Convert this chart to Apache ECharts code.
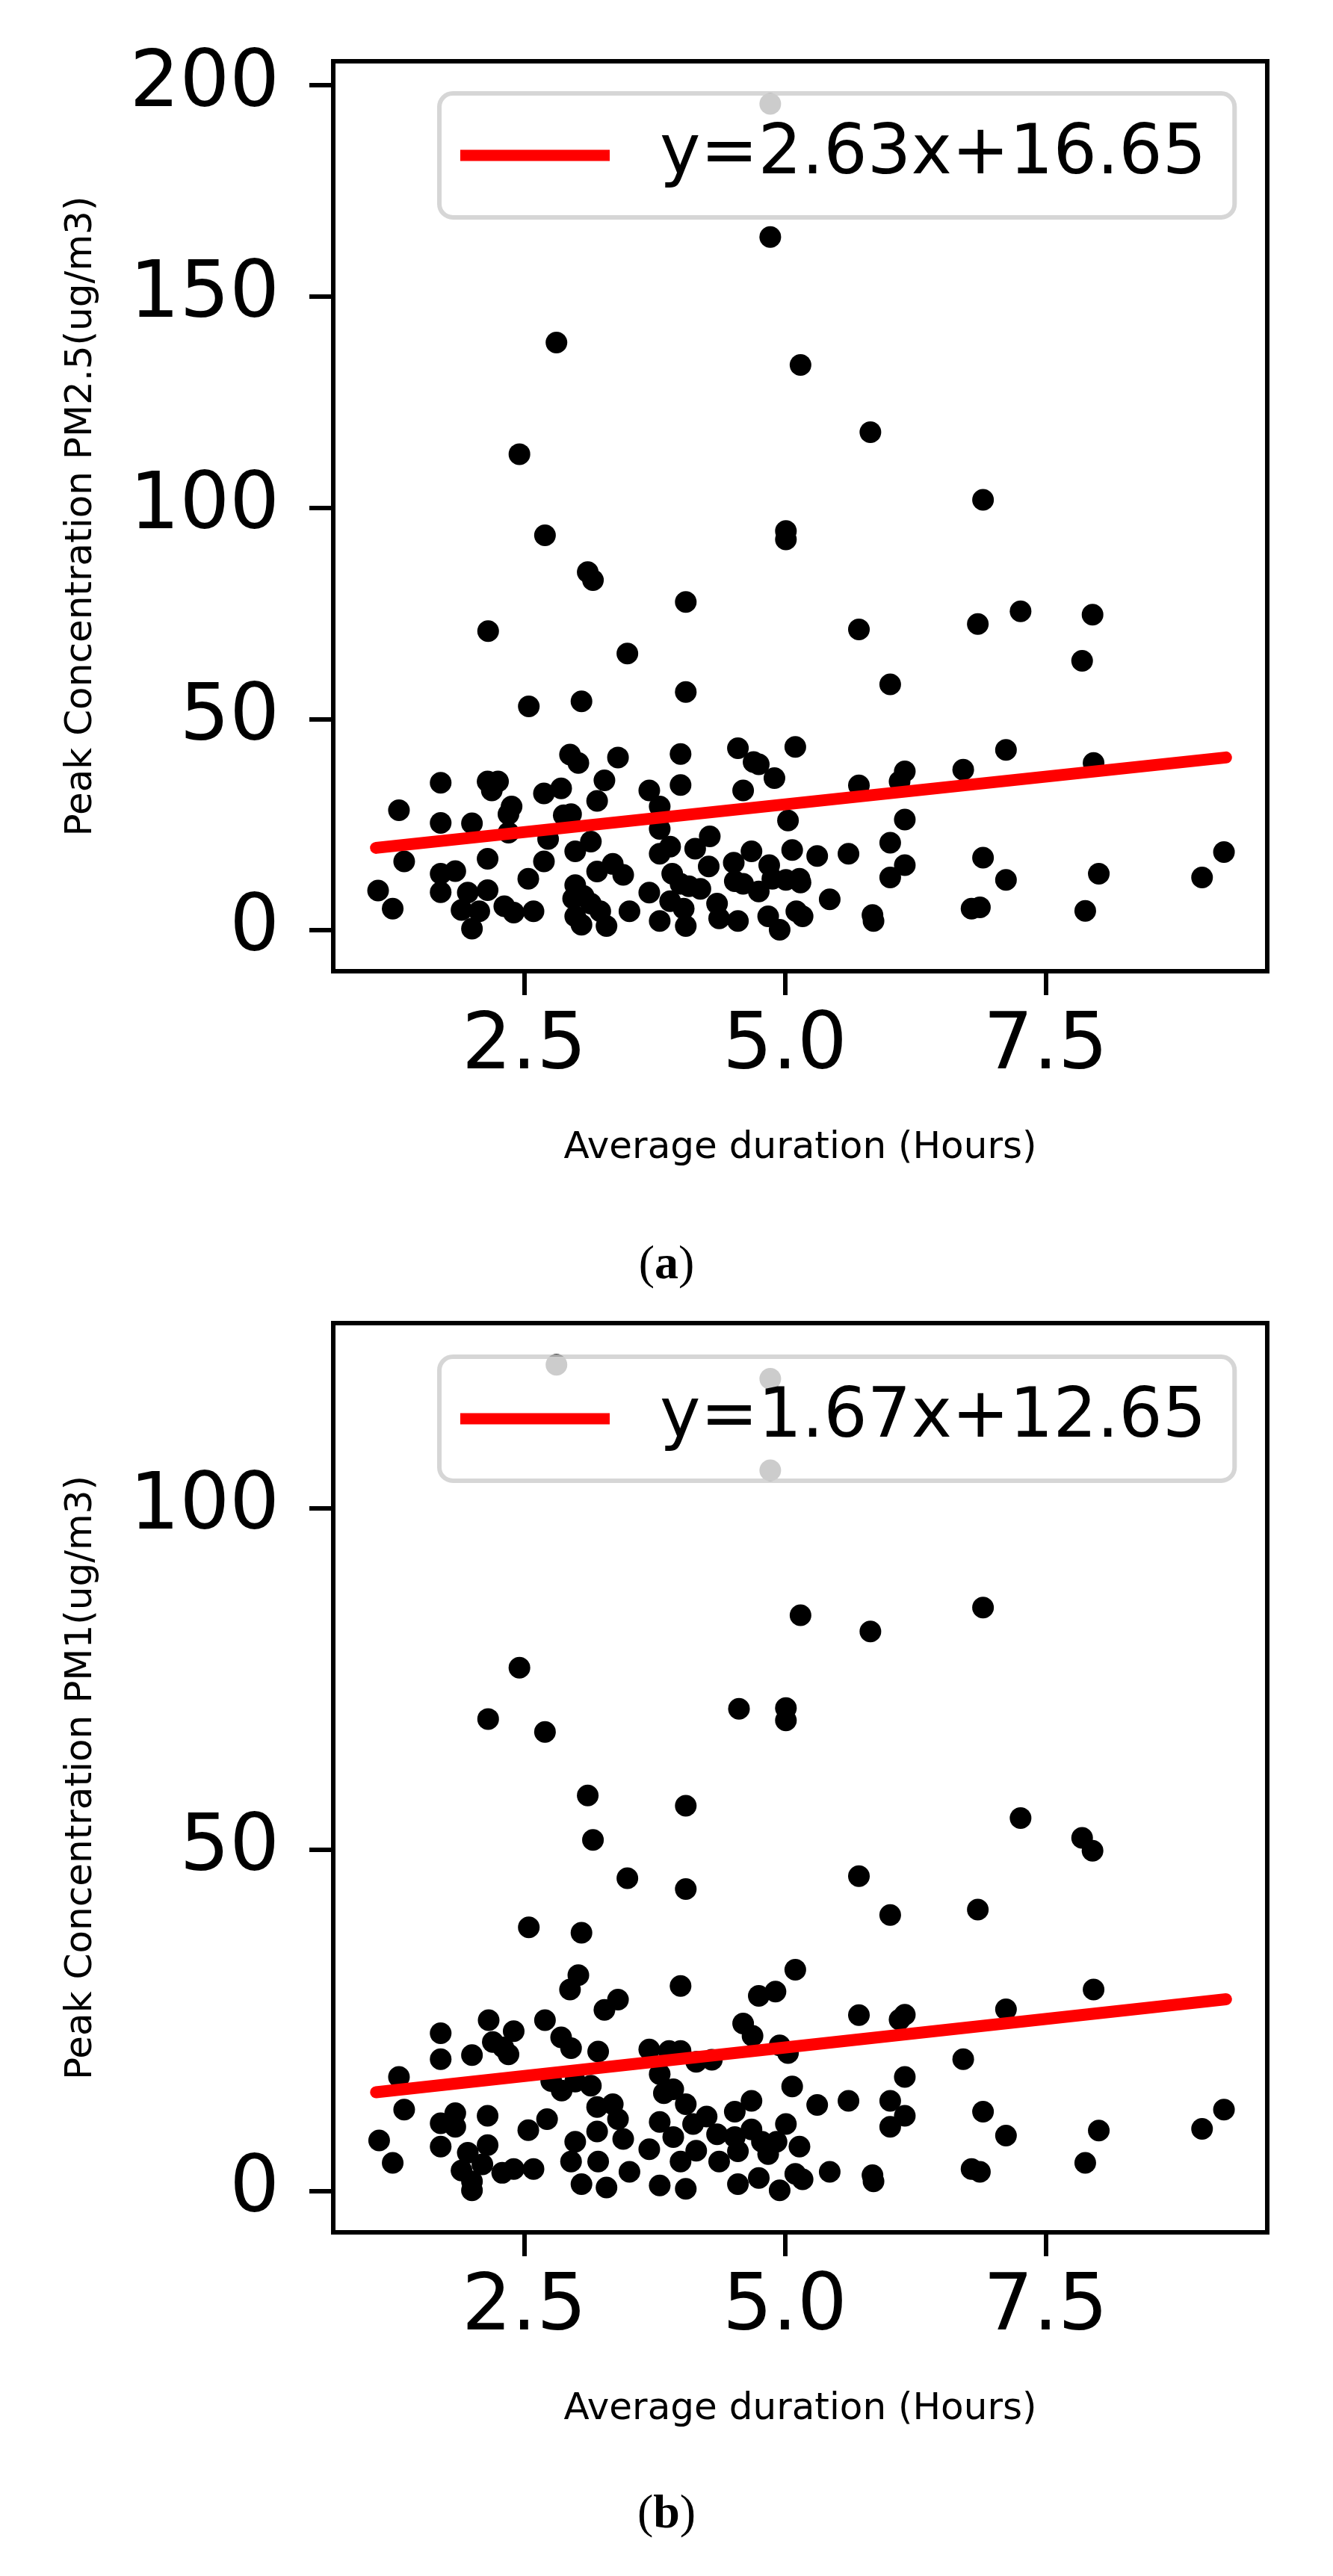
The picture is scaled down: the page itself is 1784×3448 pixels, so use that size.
<!DOCTYPE html>
<html>
<head>
<meta charset="utf-8">
<title>Peak concentration vs average duration</title>
<script src="https://cdn.jsdelivr.net/npm/echarts@6.0.0/dist/echarts.min.js"></script>
<style>
  html, body { margin: 0; padding: 0; background: #fff; }
  #main { width: 1784px; height: 3448px; }
</style>
</head>
<body>
<div id="main"></div>
<script>
// (a) PM2.5 - average duration (hours) / peak concentration (ug/m3)
var durationA = [4.86, 4.86, 2.81, 5.15, 5.82, 2.455, 6.90, 5.01, 5.01, 2.70,
	3.11, 3.16, 4.05, 7.26, 7.95, 6.85, 5.71, 2.155, 3.49, 7.85,
	6.01, 4.05, 3.05, 2.545, 5.10, 4.55, 4.70, 4.75, 4.90, 4.60,
	4.00, 4.00, 3.40, 3.27, 3.20, 2.94, 3.02, 2.855, 2.69, 3.70,
	3.80, 1.70, 1.30, 1.70, 2.00, 2.15, 2.25, 2.19, 2.38, 2.35,
	2.35, 2.88, 2.95, 2.73, 2.99, 3.14, 2.69, 3.80, 3.80, 3.90,
	4.14, 4.28, 5.03, 5.07, 4.68, 4.85, 4.51, 1.35, 1.10, 1.24,
	1.70, 1.84, 1.70, 2.15, 2.15, 1.96, 1.90, 2.00, 2.07, 2.31,
	2.40, 2.59, 2.54, 3.20, 3.35, 3.45, 2.99, 2.97, 3.07, 3.14,
	2.99, 3.05, 3.23, 3.29, 3.51, 3.70, 3.80, 3.92, 4.00, 3.90,
	4.03, 4.05, 4.19, 4.27, 4.35, 4.37, 4.55, 4.52, 4.60, 4.75,
	4.84, 4.95, 4.88, 5.01, 5.14, 5.11, 4.08, 7.12, 7.96, 5.71,
	6.15, 6.10, 6.71, 6.15, 6.01, 5.31, 5.61, 6.15, 6.01, 5.15,
	6.90, 7.12, 8.01, 9.21, 9.00, 5.43, 5.17, 5.84, 5.85, 6.79,
	6.87, 7.88];
var peakPM25 = [195.6, 164.1, 139.1, 133.8, 117.9, 112.7, 101.9, 94.5, 92.5, 93.5,
	84.8, 82.9, 77.7, 75.5, 74.7, 72.5, 71.2, 70.8, 65.5, 63.8,
	58.2, 56.4, 54.2, 53.0, 43.4, 43.1, 39.8, 39.3, 36.0, 33.1,
	41.7, 34.4, 40.9, 35.5, 30.6, 41.6, 39.6, 33.6, 32.4, 33.1,
	29.3, 34.9, 28.4, 25.4, 25.3, 35.2, 35.2, 33.1, 29.3, 27.5,
	23.1, 27.2, 27.5, 21.6, 18.7, 21.0, 16.3, 24.0, 18.1, 19.8,
	19.3, 22.2, 26.0, 19.0, 18.7, 15.4, 16.0, 16.3, 9.4, 5.1,
	13.4, 14.0, 9.0, 16.9, 9.5, 8.9, 4.8, 0.4, 4.5, 5.7,
	4.2, 4.5, 12.2, 13.9, 15.7, 13.1, 10.7, 7.5, 8.1, 6.3,
	3.3, 1.3, 4.5, 1.0, 4.5, 8.9, 2.2, 13.4, 11.0, 6.9,
	5.1, 1.0, 9.8, 15.1, 6.3, 2.8, 2.2, 11.6, 11.0, 9.2,
	3.3, 0.1, 12.2, 11.9, 12.2, 4.5, 10.4, 42.7, 39.6, 34.3,
	37.6, 35.2, 38.0, 26.2, 20.7, 17.6, 18.1, 15.4, 12.5, 11.3,
	17.2, 11.9, 13.4, 18.5, 12.5, 7.3, 3.3, 3.6, 2.2, 5.1,
	5.4, 4.6];

// (b) PM1
var durationB = [2.81, 4.86, 4.86, 6.90, 5.15, 5.82, 2.455, 4.56, 5.01, 5.01,
	2.155, 2.70, 3.11, 4.05, 7.26, 3.16, 7.85, 7.95, 3.49, 5.71,
	4.05, 6.85, 6.01, 2.545, 3.05, 5.10, 3.02, 2.94, 4.00, 4.75,
	4.91, 3.40, 3.27, 4.60, 4.69, 4.95, 5.03, 2.16, 2.40, 2.20,
	2.30, 2.35, 1.70, 1.70, 2.00, 2.70, 2.855, 2.95, 3.21, 3.70,
	3.89, 4.00, 4.15, 4.30, 1.30, 1.35, 3.80, 2.76, 2.86, 3.14,
	2.99, 3.84, 3.93, 4.05, 4.68, 5.07, 1.11, 1.24, 1.70, 1.84,
	1.84, 1.70, 1.96, 1.90, 2.00, 2.00, 2.15, 2.15, 2.10, 2.29,
	2.40, 2.59, 2.54, 2.72, 3.20, 3.35, 3.40, 3.20, 3.45, 2.99,
	2.95, 3.05, 3.21, 3.29, 3.51, 3.70, 3.80, 3.80, 3.93, 4.00,
	4.05, 4.12, 4.25, 4.15, 4.35, 4.37, 4.52, 4.52, 4.55, 4.55,
	4.68, 4.78, 4.84, 4.75, 4.95, 5.01, 4.92, 5.10, 5.14, 7.96,
	5.71, 6.15, 6.10, 7.12, 6.71, 6.15, 5.31, 5.61, 6.01, 6.15,
	6.01, 6.90, 7.12, 8.01, 9.21, 9.00, 5.17, 5.43, 5.84, 5.85,
	6.79, 6.87, 7.88];
var peakPM1 = [120.95, 118.9, 105.5, 85.4, 84.3, 81.9, 76.6, 70.6, 70.7, 68.9,
	69.1, 67.2, 57.9, 56.4, 54.6, 51.4, 51.7, 49.8, 45.8, 46.1,
	44.2, 41.2, 40.4, 38.6, 37.8, 32.4, 31.6, 29.5, 30.0, 28.55,
	29.2, 28.0, 26.5, 24.5, 22.7, 21.3, 20.2, 25.0, 23.4, 21.8,
	21.0, 20.0, 23.1, 19.3, 19.9, 25.0, 22.5, 20.9, 20.4, 20.7,
	20.5, 20.5, 18.9, 19.2, 16.7, 11.9, 17.1, 16.1, 14.7, 15.4,
	16.0, 14.3, 14.9, 12.7, 13.2, 15.3, 7.4, 4.1, 9.9, 11.4,
	9.4, 6.5, 5.6, 3.0, 0.1, 1.4, 11.0, 6.7, 3.9, 2.65,
	3.2, 3.2, 8.9, 10.5, 12.3, 12.7, 10.5, 8.7, 7.6, 7.2,
	4.3, 1.0, 4.3, 0.5, 2.8, 6.1, 10.1, 0.8, 7.9, 4.3,
	0.3, 9.8, 10.9, 5.9, 8.3, 4.3, 11.6, 7.9, 5.8, 1.0,
	9.0, 7.2, 5.4, 1.9, 0.1, 9.8, 7.2, 2.5, 6.5, 29.5,
	25.75, 25.8, 25.1, 26.6, 19.3, 16.7, 12.6, 13.2, 13.2, 11.0,
	9.4, 11.6, 8.1, 8.85, 11.9, 9.1, 1.7, 2.8, 2.3, 1.4,
	3.2, 2.8, 4.1];

// fitted lines (end points)
var fitNameA = 'y=2.63x+16.65';
var fitNameB = 'y=1.67x+12.65';
var fitLineA = [[1.08, 19.5], [9.23, 40.9]];
var fitLineB = [[1.08, 14.45], [9.23, 28.06]];

var xTicks = [2.5, 5.0, 7.5];
var yTicksA = [0, 50, 100, 150, 200];
var yTicksB = [0, 50, 100];

function zip(xs, ys) {
	var out = [];
	for (var i = 0; i < xs.length; i++) {
		out.push([xs[i], ys[i]]);
	}
	return out;
}

var FONT = '"DejaVu Sans", sans-serif';
var SERIF = 'Liberation Serif';

function xAxisFor(idx, nameGap) {
	return {
		type: 'value',
		gridIndex: idx,
		min: 0.67,
		max: 9.625,
		name: 'Average duration (Hours)',
		nameLocation: 'middle',
		nameGap: nameGap,
		nameTextStyle: { fontSize: 50, fontFamily: FONT, color: '#000' },
		axisLine: { show: true, onZero: false, lineStyle: { color: '#000', width: 6 } },
		axisTick: { show: true, length: 32, customValues: xTicks, lineStyle: { color: '#000', width: 6 } },
		axisLabel: {
			customValues: xTicks,
			margin: 50,
			fontSize: 105,
			fontFamily: FONT,
			color: '#000',
			formatter: function (v) { return v.toFixed(1); }
		},
		splitLine: { show: false }
	};
}

function yAxisFor(idx, min, max, ticks, name) {
	return {
		type: 'value',
		gridIndex: idx,
		min: min,
		max: max,
		name: name,
		nameLocation: 'middle',
		nameGap: 312,
		nameTextStyle: { fontSize: 50, fontFamily: FONT, color: '#000' },
		axisLine: { show: true, onZero: false, lineStyle: { color: '#000', width: 6 } },
		axisTick: { show: true, length: 32, customValues: ticks, lineStyle: { color: '#000', width: 6 } },
		axisLabel: {
			customValues: ticks,
			margin: 72,
			fontSize: 105,
			fontFamily: FONT,
			color: '#000'
		},
		splitLine: { show: false }
	};
}

function legendFor(name, top) {
	return {
		data: [name],
		left: 588,
		top: top,
		selectedMode: false,
		icon: 'rect',
		itemWidth: 200,
		itemHeight: 15,
		backgroundColor: 'rgba(255,255,255,0.8)',
		borderColor: 'rgba(204,204,204,0.8)',
		borderWidth: 6,
		borderRadius: 18,
		padding: [37, 38, 37, 28],
		textStyle: { fontSize: 92, fontFamily: FONT, color: '#000', padding: [0, 0, 0, 62] }
	};
}

function scatterFor(idx, data) {
	return {
		type: 'scatter',
		xAxisIndex: idx,
		yAxisIndex: idx,
		symbol: 'circle',
		symbolSize: 29,
		itemStyle: { color: '#000', opacity: 1 },
		data: data,
		z: 2
	};
}

function fitFor(idx, name, data) {
	return {
		name: name,
		type: 'line',
		xAxisIndex: idx,
		yAxisIndex: idx,
		color: '#ff0000',
		symbol: 'none',
		itemStyle: { color: '#ff0000' },
		lineStyle: { color: '#ff0000', width: 16, cap: 'round' },
		data: data,
		z: 3
	};
}

// sub-figure caption: regular parentheses, bold letter
function caption(letter, top) {
	return {
		text: '{p|(}{b|' + letter + '}{p|)}',
		left: 'center',
		top: top,
		padding: 0,
		textStyle: {
			rich: {
				p: { fontSize: 64, fontFamily: SERIF, fontWeight: 'normal', color: '#000', lineHeight: 70 },
				b: { fontSize: 64, fontFamily: SERIF, fontWeight: 'bold', color: '#000', lineHeight: 70 }
			}
		}
	};
}

var myChart = echarts.init(document.getElementById('main'), null, { renderer: 'canvas' });
var option = {
	animation: false,
	backgroundColor: '#fff',
	title: [caption('a', 1659), caption('b', 3331)],
	grid: [
		{ left: 446, top: 82, width: 1250, height: 1218, show: true, borderColor: '#000', borderWidth: 6 },
		{ left: 446, top: 1771, width: 1250, height: 1217, show: true, borderColor: '#000', borderWidth: 6 }
	],
	xAxis: [xAxisFor(0, 212), xAxisFor(1, 212)],
	yAxis: [
		yAxisFor(0, -9.7, 205.7, yTicksA, 'Peak Concentration PM2.5(ug/m3)'),
		yAxisFor(1, -6.06, 127.06, yTicksB, 'Peak Concentration PM1(ug/m3)')
	],
	legend: [legendFor(fitNameA, 125), legendFor(fitNameB, 1816)],
	series: [
		scatterFor(0, zip(durationA, peakPM25)),
		fitFor(0, fitNameA, fitLineA),
		scatterFor(1, zip(durationB, peakPM1)),
		fitFor(1, fitNameB, fitLineB)
	]
};
myChart.setOption(option);
</script>
</body>
</html>
